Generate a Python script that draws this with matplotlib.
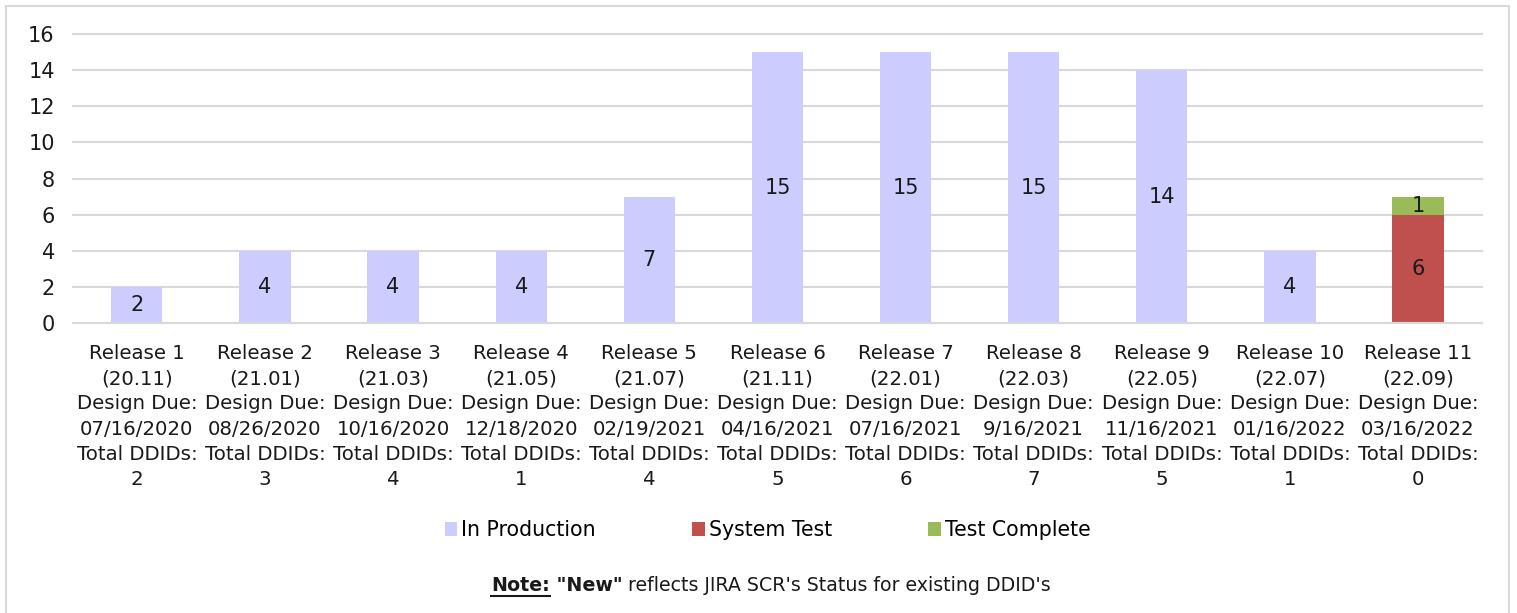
import numpy as np
import matplotlib
matplotlib.use("Agg")
import matplotlib.pyplot as plt
from matplotlib.patches import Rectangle

# Data
releases = ["Release 1", "Release 2", "Release 3", "Release 4", "Release 5", "Release 6",
            "Release 7", "Release 8", "Release 9", "Release 10", "Release 11"]
versions = ["20.11", "21.01", "21.03", "21.05", "21.07", "21.11",
            "22.01", "22.03", "22.05", "22.07", "22.09"]
design_due = ["07/16/2020", "08/26/2020", "10/16/2020", "12/18/2020", "02/19/2021", "04/16/2021",
              "07/16/2021", "9/16/2021", "11/16/2021", "01/16/2022", "03/16/2022"]
total_ddids = [2, 3, 4, 1, 4, 5, 6, 7, 5, 1, 0]
in_production = [2, 4, 4, 4, 7, 15, 15, 15, 14, 4, 0]
system_test = [0, 0, 0, 0, 0, 0, 0, 0, 0, 0, 6]
test_complete = [0, 0, 0, 0, 0, 0, 0, 0, 0, 0, 1]

colors = {"In Production": "#CCCCFF", "System Test": "#C0504D", "Test Complete": "#9BBB59"}

plt.rcParams["font.family"] = ["DejaVu Sans"]

fig = plt.figure(figsize=(15.17, 6.13), dpi=100)
ax = fig.add_axes([0.048, 0.473, 0.929, 0.4715])

x = np.arange(len(releases))
w = 0.4
ip = np.array(in_production)
st = np.array(system_test)
tc = np.array(test_complete)

ax.bar(x, ip, w, color=colors["In Production"], label="In Production", zorder=2)
ax.bar(x, st, w, bottom=ip, color=colors["System Test"], label="System Test", zorder=2)
ax.bar(x, tc, w, bottom=ip + st, color=colors["Test Complete"], label="Test Complete", zorder=2)

# value labels in segment centers
for vals, bottoms in [(ip, np.zeros_like(ip)), (st, ip), (tc, ip + st)]:
    for xi, v, b in zip(x, vals, bottoms):
        if v > 0:
            ax.text(xi, b + v / 2, str(v), ha="center", va="center", fontsize=15, color="#1a1a1a", zorder=3)

ax.set_ylim(0, 16)
ax.set_xlim(-0.5, len(releases) - 0.5)
ax.set_yticks(range(0, 17, 2))
ax.yaxis.grid(True, color="#D9D9D9", linewidth=1.5, zorder=0)
ax.set_axisbelow(True)
for gl in ax.get_ygridlines():
    gl.set_clip_on(False)
for s in ["top", "right", "left"]:
    ax.spines[s].set_visible(False)
ax.spines["bottom"].set_color("#D9D9D9")
ax.spines["bottom"].set_linewidth(1.5)
ax.tick_params(axis="both", length=0, labelsize=15, colors="#1a1a1a")
ax.tick_params(axis="y", pad=13)

labels = [f"{r}\n({v})\nDesign Due:\n{d}\nTotal DDIDs:\n{t}"
          for r, v, d, t in zip(releases, versions, design_due, total_ddids)]
ax.set_xticks(x)
ax.set_xticklabels(labels, fontsize=14.2)
for lbl in ax.get_xticklabels():
    lbl.set_linespacing(1.42)
ax.tick_params(axis="x", pad=15)

ax.legend(loc="center", bbox_to_anchor=(0.506, 0.135), bbox_transform=fig.transFigure,
          ncol=3, frameon=False, fontsize=14.8, handlelength=0.6, handleheight=0.6,
          handletextpad=0.2, columnspacing=4.7)

# figure border
fig.patches.append(Rectangle((0.004, -0.01), 0.991, 1.0, transform=fig.transFigure,
                             fill=False, edgecolor="#D9D9D9", linewidth=1.5))

# note line
fig.canvas.draw()
r = fig.canvas.get_renderer()
parts = [("Note:", "bold", True), (" \"New\"", "bold", False),
         (" reflects JIRA SCR's Status for existing DDID's", "normal", False)]
texts = []
for s, wgt, ul in parts:
    t = fig.text(0, 0.036, s, fontsize=13.7, fontweight=wgt, ha="left", va="baseline", color="#1a1a1a")
    texts.append((t, ul))
widths = [t.get_window_extent(r).width for t, _ in texts]
total = sum(widths)
start = 771 - total / 2
W = fig.bbox.width
for (t, ul), wd in zip(texts, widths):
    t.set_x(start / W)
    if ul:
        fig.add_artist(plt.Line2D([start / W, (start + wd) / W], [0.027, 0.027],
                                  transform=fig.transFigure, color="#1a1a1a", linewidth=1.5))
    start += wd

fig.savefig("out.png", dpi=100)
